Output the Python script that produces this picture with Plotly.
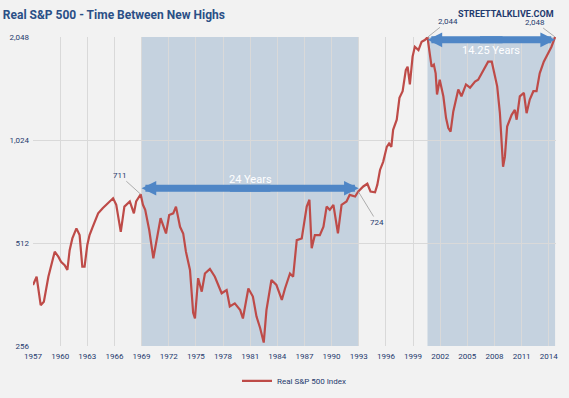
import math
import plotly.graph_objects as go

# ---- data ----
years = [1957.0, 1957.4, 1957.85, 1958.2, 1958.7, 1959.4, 1959.8, 1960.1, 1960.5, 1960.8,
         1961.05, 1961.35, 1961.8, 1962.15, 1962.45, 1962.7, 1963.0, 1963.25, 1963.6, 1964.2,
         1964.7, 1965.3, 1965.85, 1966.2, 1966.7, 1967.1, 1967.7, 1968.15, 1968.4, 1968.9,
         1969.15, 1969.4, 1969.6, 1969.85, 1970.3, 1970.65, 1971.1, 1971.7, 1972.05, 1972.5,
         1972.8, 1973.25, 1973.6, 1973.9, 1974.35, 1974.7, 1974.9, 1975.25, 1975.65, 1976.0,
         1976.55, 1977.1, 1977.85, 1978.4, 1978.75, 1979.3, 1979.9, 1980.2, 1980.8, 1981.3,
         1981.7, 1982.1, 1982.5, 1982.8, 1983.35, 1983.9, 1984.5, 1984.85, 1985.4, 1985.75,
         1986.15, 1986.7, 1987.25, 1987.55, 1987.8, 1988.15, 1988.7, 1989.1, 1989.45, 1989.8,
         1990.2, 1990.7, 1991.1, 1991.65, 1992.0, 1992.6, 1992.95, 1993.5, 1993.95, 1994.3,
         1994.8, 1995.05, 1995.35, 1995.7, 1996.1, 1996.35, 1996.6, 1996.8, 1997.2, 1997.5,
         1997.85, 1998.2, 1998.4, 1998.65, 1998.95, 1999.2, 1999.6, 1999.95, 2000.3, 2000.6,
         2001.05, 2001.3, 2001.5, 2001.65, 2001.95, 2002.35, 2002.65, 2002.9, 2003.15, 2003.45,
         2004.0, 2004.35, 2004.85, 2005.3, 2005.85, 2006.2, 2006.6, 2006.95, 2007.3, 2007.7,
         2008.05, 2008.3, 2008.6, 2008.8, 2008.95, 2009.15, 2009.4, 2009.9, 2010.25, 2010.45,
         2010.8, 2011.25, 2011.55, 2011.9, 2012.3, 2012.65, 2013.0, 2013.45, 2013.95, 2014.3,
         2014.7]
real_sp500 = [386, 408, 337, 345, 408, 483, 467, 451, 441, 427,
              488, 528, 565, 540, 437, 437, 505, 540, 571, 625,
              647, 669, 692, 662, 552, 654, 677, 625, 677, 711,
              662, 640, 598, 558, 462, 516, 605, 546, 618, 625,
              654, 571, 546, 483, 427, 320, 308, 404, 369, 417,
              430, 408, 365, 373, 334, 341, 326, 308, 377, 357,
              312, 289, 262, 326, 399, 386, 349, 377, 417, 408,
              522, 528, 654, 685, 494, 540, 540, 571, 654, 640,
              662, 546, 662, 677, 708, 700, 724, 749, 763, 724,
              720, 757, 837, 884, 978, 1000, 978, 1097, 1174, 1360,
              1422, 1640, 1677, 1488, 1795, 1918, 1876, 1984, 2007, 2044,
              1677, 1700, 1604, 1391, 1536, 1374, 1187, 1109, 1083, 1241,
              1438, 1374, 1488, 1456, 1518, 1536, 1604, 1677, 1735, 1735,
              1570, 1469, 1227, 978, 855, 914, 1121, 1213, 1254, 1174,
              1374, 1406, 1227, 1344, 1422, 1422, 1604, 1735, 1840, 1918,
              2048]

y_tick_vals = [256, 512, 1024, 2048]
y_tick_text = ["256", "512", "1,024", "2,048"]
x_range = [1957, 2014.8]

# periods between new highs: (start, end, label, arrow level, label shift px)
periods = [(1969.0, 1993.0, "24 Years", 740, 9),
           (2000.6, 2014.7, "14.25 Years", 2010, -11)]

# labelled highs: (year, value, text, ax, ay)
highs = [(1968.9, 711, "711", -21, -19),
         (1992.95, 724, "724", 19, 31),
         (2000.6, 2044, "2,044", 20, -16),
         (2014.7, 2048, "2,048", -20, -15)]

FONT = "Roboto, Liberation Sans Narrow, sans-serif"
NAVY = "#1f3a6e"
BG = "#f2f2f2"

fig = go.Figure()
fig.add_trace(go.Scatter(x=years, y=real_sp500, mode="lines", name="Real S&P 500 Index",
                         line=dict(color="#be4b48", width=2.2)))

for (x0, x1, label, lvl, ys) in periods:
    fig.add_vrect(x0=x0, x1=x1, fillcolor="#c5d2df", line_width=0, layer="below")
    span = x1 - x0
    ly = math.log10(lvl)
    # two overlapping single-headed arrows form one double-headed arrow
    fig.add_annotation(x=x0, y=ly, ax=x0 + span * 0.6, ay=ly, axref="x", ayref="y",
                       xref="x", yref="y", text="", showarrow=True, arrowhead=2,
                       arrowsize=0.42, arrowwidth=7, arrowcolor="#4f86c6",
                       standoff=0, startstandoff=0)
    fig.add_annotation(x=x1, y=ly, ax=x0 + span * 0.4, ay=ly, axref="x", ayref="y",
                       xref="x", yref="y", text="", showarrow=True, arrowhead=2,
                       arrowsize=0.42, arrowwidth=7, arrowcolor="#4f86c6",
                       standoff=0, startstandoff=0)
    fig.add_annotation(x=(x0 + x1) / 2, y=ly, yshift=ys, text=label, showarrow=False,
                       font=dict(family=FONT, size=11, color="white"))

for (x, v, t, ax, ay) in highs:
    fig.add_annotation(x=x, y=math.log10(v), text=t, showarrow=True, arrowhead=0,
                       arrowwidth=0.8, arrowcolor="#9a9a9a", ax=ax, ay=ay,
                       font=dict(family=FONT, size=8, color=NAVY))

fig.add_annotation(xref="paper", yref="paper", x=1.0, y=1.075, xanchor="right",
                   yanchor="middle", text="<b>STREETTALKLIVE.COM</b>", showarrow=False,
                   font=dict(family=FONT, size=9, color=NAVY))

fig.update_layout(
    width=569, height=398,
    margin=dict(l=33, r=13, t=37, b=52, autoexpand=False),
    paper_bgcolor=BG, plot_bgcolor=BG,
    title=dict(text="<b>Real S&P 500 - Time Between New Highs</b>", x=0.005, xanchor="left",
               y=0.963, yanchor="middle",
               font=dict(family=FONT, size=12, color="#2a4f86")),
    showlegend=True,
    legend=dict(orientation="h", x=0.5, xanchor="center", y=-0.113, yanchor="middle",
                font=dict(family=FONT, size=8, color=NAVY), bgcolor="rgba(0,0,0,0)"),
    xaxis=dict(range=x_range, tick0=1957, dtick=3, showgrid=True, gridcolor="#d9d9d9",
               gridwidth=1, zeroline=False, showline=False, ticks="", ticklabelstandoff=4,
               tickfont=dict(family=FONT, size=8, color=NAVY)),
    yaxis=dict(type="log", range=[math.log10(256), math.log10(2048)],
               tickvals=y_tick_vals, ticktext=y_tick_text, showgrid=True,
               gridcolor="#d9d9d9", gridwidth=1, zeroline=False, showline=False, ticks="",
               ticklabelstandoff=3,
               tickfont=dict(family=FONT, size=8, color=NAVY)),
)

fig.write_html("out.html", config={"displayModeBar": False},
               post_script="document.body.style.margin='0';document.body.style.overflow='hidden';")
